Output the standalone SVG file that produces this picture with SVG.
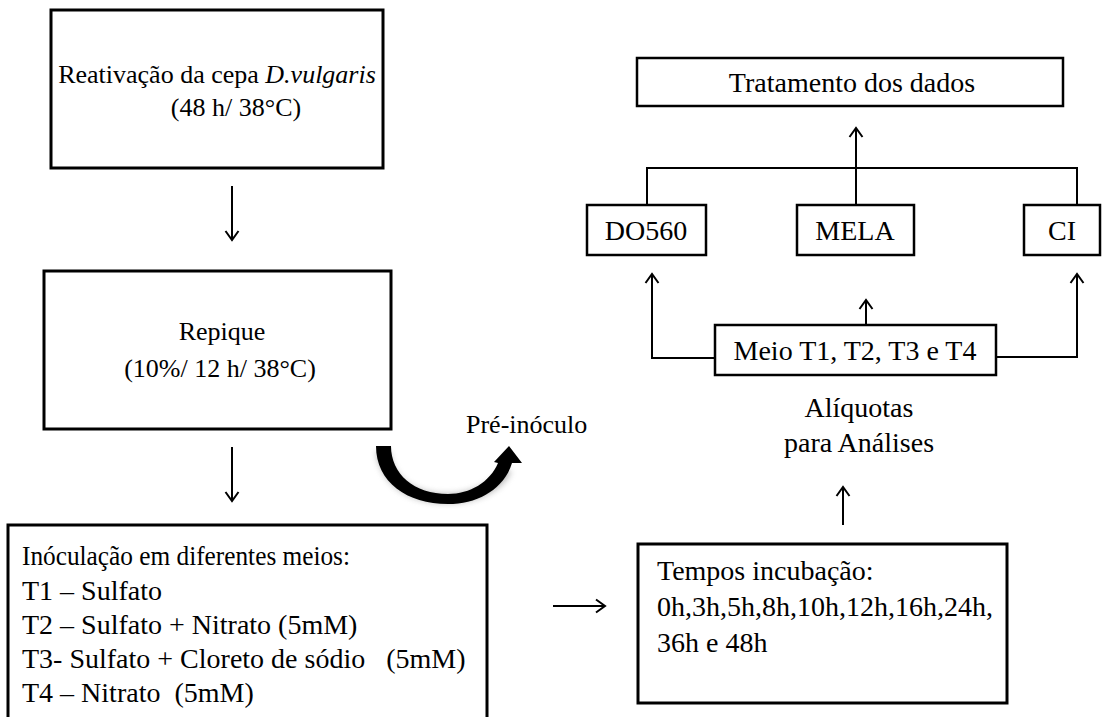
<svg xmlns="http://www.w3.org/2000/svg" width="1107" height="717" viewBox="0 0 1107 717">
  <style>
    .box { fill: #fff; stroke: #000; stroke-width: 3; }
    .sbox { fill: #fff; stroke: #000; stroke-width: 2.5; }
    .t { font-family: "Liberation Serif", "Times New Roman", serif; font-size: 28px; fill: #000; }
    .s { font-size: 26px; }
    .c { text-anchor: middle; }
    .pre { white-space: pre; }
    .ln { fill: none; stroke: #000; stroke-width: 2; }
    .ar { fill: none; stroke: #000; stroke-width: 2; marker-end: url(#chev); }
  </style>
  <defs>
    <marker id="chev" markerUnits="userSpaceOnUse" markerWidth="20" markerHeight="20" refX="0" refY="0" viewBox="-12 -10 14 20" orient="auto" overflow="visible">
      <path d="M -9 -6.5 L 0 0 L -9 6.5" fill="none" stroke="#000" stroke-width="2"/>
    </marker>
    <filter id="soft" x="-20%" y="-20%" width="140%" height="160%">
      <feGaussianBlur stdDeviation="3"/>
    </filter>
  </defs>

  <!-- left column -->
  <g id="reativacao">
    <rect class="box" x="51" y="10" width="332" height="158"/>
    <text class="t s c" x="217" y="83">Reativação da cepa <tspan font-style="italic">D.vulgaris</tspan></text>
    <text class="t s c" x="236" y="116">(48 h/ 38°C)</text>
  </g>

  <g id="repique">
    <rect class="box" x="44" y="271" width="347" height="158"/>
    <text class="t s c" x="222" y="340">Repique</text>
    <text class="t s c" x="220" y="377">(10%/ 12 h/ 38°C)</text>
  </g>

  <g id="pre-inoculo">
    <path d="M 376 452 C 382 486 410 503 447 503 C 478 503 502 490 511 472 L 503 468 C 494 482 472 494 447 494 C 414 494 392 478 390 452 Z" fill="#777" filter="url(#soft)" opacity="0.55"/>
    <path d="M 376 446 C 376 482 407 504 448 504 C 478 504 504 489 512 463 L 522 463 L 509 446 L 494 462 L 498 463 C 490 482 470 494 448 494 C 414 494 391 474 391 446 Z" fill="#000"/>
    <text class="t s" x="466" y="433">Pré-inóculo</text>
  </g>

  <g id="inoculacao">
    <rect class="box" x="8" y="525" width="479" height="200"/>
    <text class="t pre" x="22" y="565" textLength="328" lengthAdjust="spacingAndGlyphs">Inóculação em diferentes meios:</text>
    <text class="t pre" x="22" y="600">T1 – Sulfato</text>
    <text class="t pre" x="22" y="634">T2 – Sulfato + Nitrato (5mM)</text>
    <text class="t pre" x="22" y="668">T3- Sulfato + Cloreto de sódio   (5mM)</text>
    <text class="t pre" x="22" y="702">T4 – Nitrato  (5mM)</text>
  </g>

  <!-- right column -->
  <g id="tempos">
    <rect class="box" x="638" y="544" width="369" height="159"/>
    <text class="t" x="657" y="580">Tempos incubação:</text>
    <text class="t" x="657" y="616">0h,3h,5h,8h,10h,12h,16h,24h,</text>
    <text class="t" x="657" y="652">36h e 48h</text>
  </g>

  <g id="aliquotas">
    <text class="t c" x="859" y="417">Alíquotas</text>
    <text class="t c" x="859" y="452">para Análises</text>
  </g>

  <g id="meio">
    <rect class="sbox" x="715" y="325" width="281" height="50"/>
    <text class="t c" x="855" y="360">Meio T1, T2, T3 e T4</text>
  </g>

  <g id="do560">
    <rect class="sbox" x="587" y="205" width="119" height="50"/>
    <text class="t c" x="646" y="240">DO560</text>
  </g>

  <g id="mela">
    <rect class="sbox" x="797" y="205" width="117" height="50"/>
    <text class="t c" x="855" y="240">MELA</text>
  </g>

  <g id="ci">
    <rect class="sbox" x="1024" y="205" width="76" height="50"/>
    <text class="t c" x="1062" y="240">CI</text>
  </g>

  <g id="tratamento">
    <rect class="sbox" x="637" y="58" width="426" height="48"/>
    <text class="t c" x="852" y="92">Tratamento dos dados</text>
  </g>

  <!-- connectors -->
  <g id="connectors">
    <line class="ar" x1="232" y1="186" x2="232" y2="240"/>
    <line class="ar" x1="232" y1="447" x2="232" y2="501"/>
    <line class="ar" x1="553" y1="606" x2="605" y2="606"/>
    <line class="ar" x1="843" y1="525" x2="843" y2="487"/>
    <polyline class="ar" points="715,358 652,358 652,274"/>
    <line class="ar" x1="866" y1="325" x2="866" y2="300"/>
    <polyline class="ar" points="996,357 1077,357 1077,274"/>
    <polyline class="ln" points="647,205 647,168 1077,168 1077,205"/>
    <line class="ar" x1="856" y1="205" x2="856" y2="128"/>
  </g>
</svg>
